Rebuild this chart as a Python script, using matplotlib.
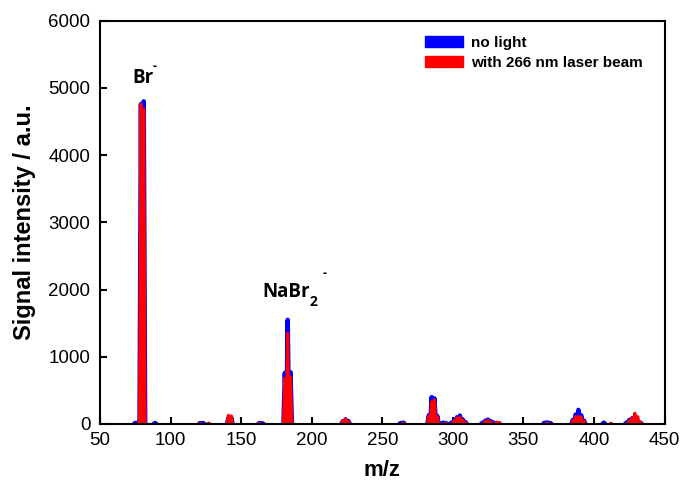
import matplotlib
matplotlib.use('Agg')
import matplotlib.pyplot as plt
from matplotlib.patches import Patch
import numpy as np

# peak positions (m/z) and intensities
mz_nolight = [75, 77, 79, 81, 89, 121, 123, 141, 143, 163, 165,
              181, 183, 185, 222, 224, 226, 263, 265,
              283, 285, 287, 289, 293, 295,
              299, 301, 303, 305, 307, 309,
              321, 323, 325, 327, 329, 365, 367, 369,
              385, 387, 389, 391, 393, 407,
              423, 425, 427, 429, 431, 433]
int_nolight = [15, 20, 4760, 4800, 15, 15, 15, 90, 100, 15, 10,
               760, 1550, 770, 40, 70, 45, 15, 20,
               130, 400, 380, 120, 20, 15,
               20, 60, 100, 125, 70, 30,
               20, 50, 65, 40, 20, 20, 25, 15,
               60, 140, 210, 130, 50, 20,
               20, 60, 85, 75, 50, 20]

mz_laser = [77, 79, 81, 121, 127, 141, 143, 163,
            181, 183, 185, 222, 224, 226, 265,
            283, 285, 287, 289, 295,
            301, 303, 305, 307, 309,
            323, 325, 327, 331, 333, 367,
            385, 387, 389, 391, 393, 412,
            425, 427, 429, 431, 433]
int_laser = [15, 4760, 4680, 10, 15, 130, 120, 10,
             680, 1350, 700, 50, 75, 40, 15,
             120, 330, 360, 110, 10,
             50, 90, 100, 60, 20,
             40, 55, 30, 30, 25, 15,
             50, 110, 115, 100, 40, 10,
             50, 90, 160, 110, 30]

series_labels = ['no light', 'with 266 nm laser beam']


def spectrum(mz, inten):
    # put the peaks on a unit m/z grid; empty stretches become gaps
    grid = np.arange(70, 441)
    y = np.zeros(len(grid))
    for m, v in zip(mz, inten):
        y[m - 70] = v
    near = np.convolve(y > 0, [1, 1, 1], mode='same') > 0
    y[~near] = np.nan
    return grid, y


plt.rcParams['font.family'] = ['Liberation Sans', 'DejaVu Sans']

fig = plt.figure(figsize=(6.81, 4.93), dpi=100)
ax = fig.add_axes([100 / 681, 1 - 424 / 493, 564.5 / 681, 403.3 / 493])

x, y = spectrum(mz_nolight, int_nolight)
ax.fill_between(x, np.nan_to_num(y), color='#0000ff', lw=0)
ax.plot(x, y, color='#0000ff', lw=3.2, solid_joinstyle='round', solid_capstyle='round')

x, y = spectrum(mz_laser, int_laser)
ax.fill_between(x, np.nan_to_num(y), color='#ff0000', lw=0)
ax.plot(x, y, color='#ff0000', lw=2.2, solid_joinstyle='round', solid_capstyle='round')

ax.set_xlim(50, 450)
ax.set_ylim(0, 6000)
ax.set_xticks(np.arange(50, 451, 50))
ax.set_yticks(np.arange(0, 6001, 1000))
ax.tick_params(direction='in', length=5, width=1.5, labelsize=13.5, top=False, right=False)
ax.tick_params(axis='y', pad=7)
ax.tick_params(axis='x', pad=5.5)
for s in ax.spines.values():
    s.set_linewidth(1.5)
    s.set_zorder(5)

ax.set_xlabel('m/z', fontsize=16, fontweight='bold', labelpad=8)
ax.set_ylabel('Signal intensity / a.u.', fontsize=17, fontweight='bold', labelpad=9)

handles = [Patch(facecolor='#0000ff', edgecolor='#0000ff'),
           Patch(facecolor='#ff0000', edgecolor='#ff0000')]
fig.legend(handles, series_labels, loc='upper left',
           bbox_to_anchor=(425 / 681, 1 - 36 / 493), frameon=False,
           prop={'weight': 'bold', 'size': 11}, handlelength=2.5, handleheight=0.7,
           handletextpad=0.5, labelspacing=0.4, borderpad=0, borderaxespad=0)

# peak labels
lab = dict(family='Open Sans', fontweight='bold', va='baseline')
fig.text(132.7 / 681, 1 - 82.7 / 493, 'Br', fontsize=13.5, **lab)
fig.text(152.5 / 681, 1 - 70 / 493, '-', fontsize=9, **lab)
fig.text(262.7 / 681, 1 - 296.7 / 493, 'NaBr', fontsize=13.5, **lab)
fig.text(310 / 681, 1 - 306 / 493, '2', fontsize=10, **lab)
fig.text(323 / 681, 1 - 277 / 493, '-', fontsize=9, **lab)

fig.savefig('out.png', dpi=100)
